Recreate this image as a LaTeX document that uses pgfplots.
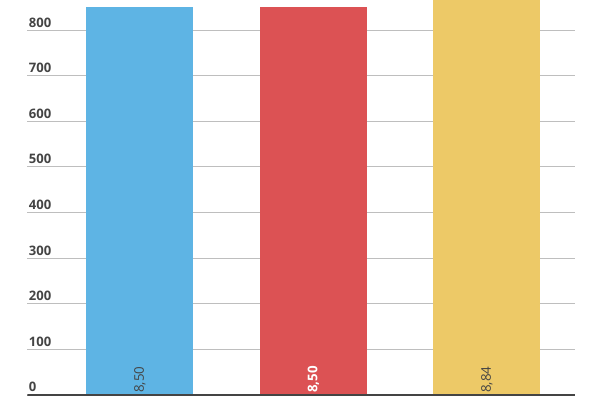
\documentclass[border=0pt]{standalone}
\usepackage{pgfplots}
\pgfplotsset{compat=1.18}
\usepackage{fontspec}
\setmainfont{Open Sans}
\definecolor{barblue}{RGB}{94,180,228}
\definecolor{barred}{RGB}{220,82,84}
\definecolor{baryellow}{RGB}{237,201,103}
\definecolor{gridgray}{RGB}{190,190,190}
\definecolor{txtgray}{RGB}{68,68,68}
\begin{document}
\begin{tikzpicture}[x=1pt,y=1pt]
\begin{axis}[
    at={(15.75,0)}, anchor=south west,
    scale only axis,
    width=411pt, height=296.25pt,
    xmin=-0.648, xmax=2.51,
    ymin=0, ymax=866,
    ytick={0,100,...,800},
    xtick=\empty,
    axis line style={draw=none},
    major tick length=0pt,
    ymajorgrids,
    grid style={gridgray, line width=0.75pt},
    yticklabel style={anchor=south west, inner sep=1pt, xshift=0pt, yshift=1pt,
        font=\fontsize{9.8}{10}\selectfont\bfseries, text=txtgray},
    /pgf/number format/assume math mode=true,
    ybar, bar width=80.25pt, bar shift=0pt,
    clip=true,
]
\addplot[fill=barblue, draw=none] coordinates {(0,850)};
\addplot[fill=barred, draw=none] coordinates {(1,850)};
\addplot[fill=baryellow, draw=none] coordinates {(2,884)};
\draw[txtgray, line width=1.5pt] (rel axis cs:0,0) -- (rel axis cs:1,0);
\node[rotate=90, anchor=west, inner sep=1.5pt, text=txtgray, font=\fontsize{10}{10}\selectfont] at (axis cs:0,0) {8,50};
\node[rotate=90, anchor=west, inner sep=1.5pt, text=white, font=\fontsize{10}{10}\selectfont\bfseries] at (axis cs:1,0) {8,50};
\node[rotate=90, anchor=west, inner sep=1.5pt, text=txtgray, font=\fontsize{10}{10}\selectfont] at (axis cs:2,0) {8,84};
\end{axis}
\pgfresetboundingbox
\useasboundingbox (0,-3.75) rectangle (450,296.25);
\end{tikzpicture}
\end{document}
